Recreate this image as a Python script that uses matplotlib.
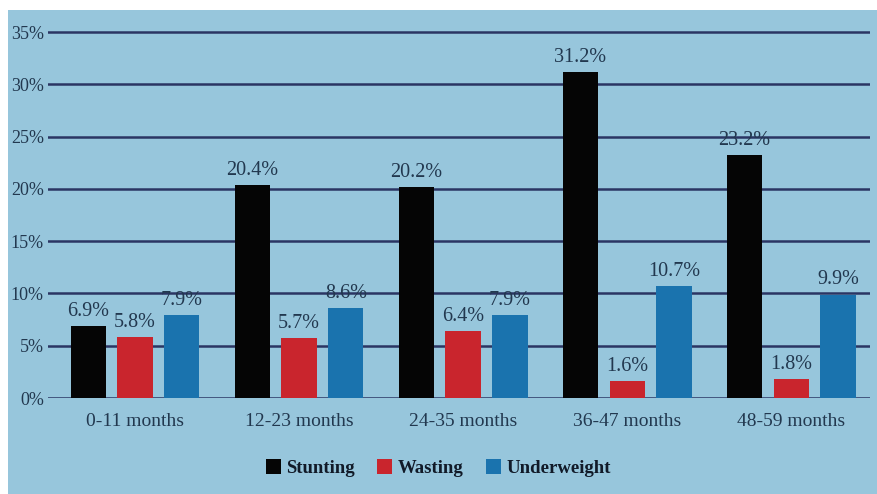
import matplotlib.pyplot as plt
import numpy as np
from matplotlib.patches import Rectangle

# age groups and prevalence values (%)
groups = ["0-11 months", "12-23 months", "24-35 months", "36-47 months", "48-59 months"]
stunting = [6.9, 20.4, 20.2, 31.2, 23.2]
wasting = [5.8, 5.7, 6.4, 1.6, 1.8]
underweight = [7.9, 8.6, 7.9, 10.7, 9.9]
yticks = [0, 5, 10, 15, 20, 25, 30, 35]

bg = "#97c6dc"
txt = "#22384f"
grid = "#2b3563"

plt.rcParams["font.family"] = ["Liberation Serif", "DejaVu Serif"]

fig = plt.figure(figsize=(8.77, 4.94), dpi=100, facecolor="white")
# blue page area, white strip along top and left edge
fig.patches.append(Rectangle((8 / 877, 0), 1, 1 - 10 / 494, transform=fig.transFigure,
                             facecolor=bg, edgecolor="none", zorder=-1))
ax = fig.add_axes([48 / 877, 96 / 494, 822 / 877, 368 / 494])
ax.set_facecolor("none")

x = np.arange(len(groups))
w = 0.215
off = 0.285
series = [(stunting, "#050505", "Stunting"),
          (wasting, "#c9252d", "Wasting"),
          (underweight, "#1a73ae", "Underweight")]
for i, (vals, col, name) in enumerate(series):
    pos = x + (i - 1) * off
    ax.bar(pos, vals, width=w, color=col, label=name, zorder=3)
    for p, v in zip(pos, vals):
        ax.text(p, v + 0.5, f"{v}%", ha="center", va="bottom", fontsize=14.5,
                color=txt, zorder=4)

for t in yticks:
    ax.axhline(t, color=grid, lw=1.8, zorder=2)

ax.set_xlim(-0.53, 4.48)
ax.set_ylim(0, 35.2)
ax.set_yticks(yticks)
ax.set_yticklabels([f"{t}%" for t in yticks], fontsize=13, color=txt)
ax.set_xticks(x)
ax.set_xticklabels(groups, fontsize=14, color=txt)
ax.tick_params(axis="x", length=0, pad=11)
ax.tick_params(axis="y", length=0, pad=3)
for s in ax.spines.values():
    s.set_visible(False)

leg = fig.legend(loc="center", bbox_to_anchor=(0.5, 26 / 494), ncol=3,
                 frameon=False, handlelength=0.8, handleheight=0.8, handletextpad=0.3,
                 columnspacing=1.2, prop={"weight": "bold", "size": 13.5})
for t in leg.get_texts():
    t.set_color("#111a28")

fig.savefig("out.png", dpi=100, facecolor=fig.get_facecolor())
